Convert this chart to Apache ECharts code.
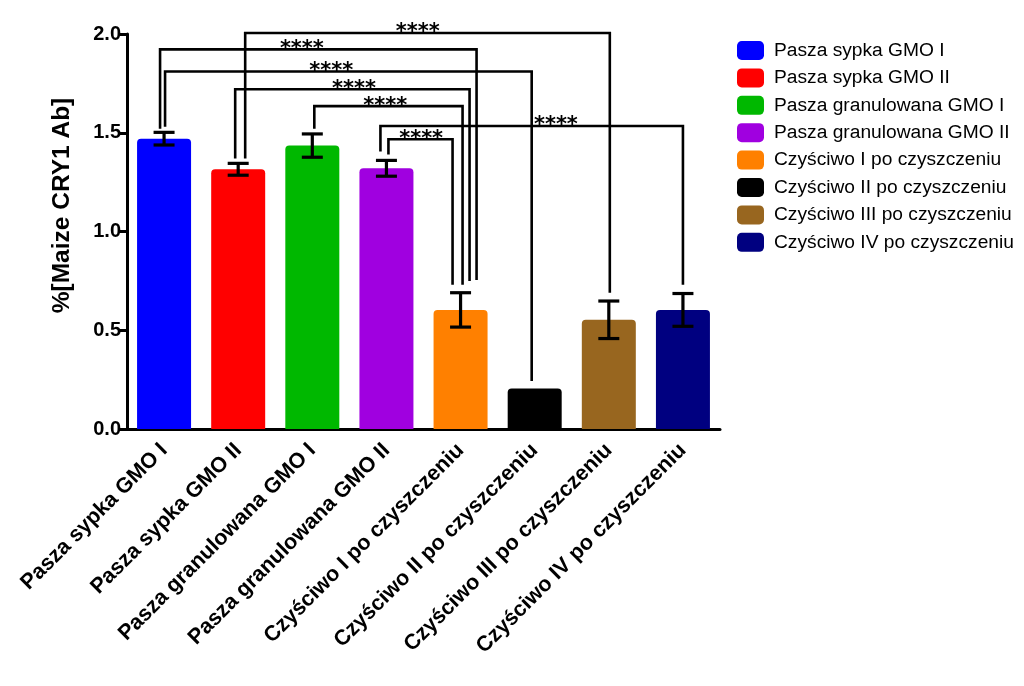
<!DOCTYPE html>
<html>
<head>
<meta charset="utf-8">
<script src="https://cdn.jsdelivr.net/npm/echarts@6/dist/echarts.min.js"></script>
<style>html,body{margin:0;padding:0;background:#fff;}#chart{width:1024px;height:686px;}</style>
</head>
<body>
<div id="chart"></div>
<script>
var categories = ['Pasza sypka GMO I','Pasza sypka GMO II','Pasza granulowana GMO I','Pasza granulowana GMO II','Czyściwo I po czyszczeniu','Czyściwo II po czyszczeniu','Czyściwo III po czyszczeniu','Czyściwo IV po czyszczeniu'];
var values = [1.47, 1.315, 1.435, 1.32, 0.603, 0.205, 0.553, 0.603];
var errors = [0.032, 0.03, 0.059, 0.04, 0.087, 0, 0.095, 0.083];
var colors = ['#0000FF','#FF0000','#00B800','#A000E0','#FF8000','#000000','#98661F','#000080'];
var yTicks = [0, 0.5, 1.0, 1.5, 2.0];
// significance brackets: group indices, bracket level, leg bottoms, label
var bracketFrom = [1, 0, 0, 1, 2, 3, 3];
var bracketTo = [6, 4, 5, 4, 4, 7, 4];
var bracketLevel = [2.005, 1.922, 1.81, 1.72, 1.635, 1.534, 1.467];
var bracketLeftBottom = [1.37, 1.52, 1.53, 1.37, 1.52, 1.405, 1.39];
var bracketRightBottom = [0.69, 0.755, 0.243, 0.75, 0.73, 0.73, 0.73];
var bracketLabels = ['****','****','****','****','****','****','****'];
// styling: leg pixel offsets from group centers, label position fraction
var legLeftOffset = [7, -4, 1, -3, 2, -6, 2];
var legRightOffset = [1, 16, -3, 9, 2, 0, -8];
var labelFrac = [0.473, 0.448, 0.453, 0.507, 0.479, 0.58, 0.51];

var chart = echarts.init(document.getElementById('chart'), null, {renderer:'canvas'});
var FONT = '"Liberation Sans", Arial, sans-serif';

var series = categories.map(function(name, i){
  var d = categories.map(function(c, j){ return j === i ? values[j] : '-'; });
  return {
    name: name, type: 'bar', data: d, barWidth: 54, barGap: '-100%',
    itemStyle: {color: colors[i], borderRadius: [4,4,0,0]},
    emphasis: {disabled: true}, z: 2
  };
});

series.push({
  type: 'custom', name: 'err', z: 5, silent: true,
  data: values.map(function(v, i){ return [i, v - errors[i], v + errors[i]]; }),
  renderItem: function(params, api){
    var i = api.value(0);
    if (errors[i] === 0) return null;
    var lo = api.coord([i, api.value(1)]);
    var hi = api.coord([i, api.value(2)]);
    var w = 10.5;
    var st = {stroke:'#000', lineWidth:3.2};
    return {type:'group', children:[
      {type:'line', shape:{x1:lo[0],y1:lo[1],x2:hi[0],y2:hi[1]}, style:st},
      {type:'line', shape:{x1:lo[0]-w,y1:lo[1],x2:lo[0]+w,y2:lo[1]}, style:st},
      {type:'line', shape:{x1:hi[0]-w,y1:hi[1],x2:hi[0]+w,y2:hi[1]}, style:st}
    ]};
  }
});

series.push({
  type: 'custom', name: 'sig', z: 6, silent: true, clip: false,
  data: bracketFrom.map(function(f, i){ return [f, bracketTo[i], bracketLevel[i], bracketLeftBottom[i], bracketRightBottom[i]]; }),
  encode: {x: 0, y: 2},
  renderItem: function(params, api){
    var k = params.dataIndex;
    var f = api.value(0), t = api.value(1);
    var top = api.coord([f, api.value(2)])[1];
    var lx = api.coord([f, 0])[0] + legLeftOffset[k];
    var rx = api.coord([t, 0])[0] + legRightOffset[k];
    var lb = api.coord([f, api.value(3)])[1];
    var rb = api.coord([t, api.value(4)])[1];
    var tx = lx + (rx - lx) * labelFrac[k];
    return {type:'group', children:[
      {type:'polyline', shape:{points:[[lx,lb],[lx,top],[rx,top],[rx,rb]]}, style:{stroke:'#000', lineWidth:2.6, fill:null}},
      {type:'text', x: tx, y: top, style:{text: bracketLabels[k], font:'bold 21px "DejaVu Sans", sans-serif', fill:'#000', align:'center', verticalAlign:'middle'}}
    ]};
  }
});

chart.setOption({
  animation: false,
  backgroundColor: '#fff',
  grid: {left: 127, top: 34, width: 593, height: 395, containLabel: false},
  legend: {
    orient: 'vertical', left: 737, top: 41, padding: 0,
    itemWidth: 27, itemHeight: 19, itemGap: 8.4, icon: 'roundRect',
    data: categories,
    textStyle: {fontFamily: FONT, fontSize: 19.2, color: '#000', padding: [0,0,0,5]}
  },
  xAxis: {
    type: 'category', data: categories,
    axisLine: {lineStyle: {color:'#000', width: 3}},
    axisTick: {alignWithLabel: true, length: 7, lineStyle: {color:'#000', width: 3}},
    axisLabel: {interval: 0, rotate: 45, margin: 18, color:'#000', fontFamily: FONT, fontWeight:'bold', fontSize: 21.5}
  },
  yAxis: {
    type: 'value', min: 0, max: 2, interval: 0.5,
    name: '%[Maize CRY1 Ab]', nameLocation: 'middle', nameGap: 52,
    nameTextStyle: {color:'#000', fontFamily: FONT, fontWeight:'bold', fontSize: 24.5, padding: [0,0,0,52]},
    axisLine: {show: true, lineStyle: {color:'#000', width: 3}},
    axisTick: {show: true, length: 7, lineStyle: {color:'#000', width: 3}},
    splitLine: {show: false},
    axisLabel: {margin: 6, color:'#000', fontFamily: FONT, fontWeight:'bold', fontSize: 20,
      formatter: function(v){ return yTicks.indexOf(v) >= 0 ? v.toFixed(1) : ''; }}
  },
  series: series
});
</script>
</body>
</html>
